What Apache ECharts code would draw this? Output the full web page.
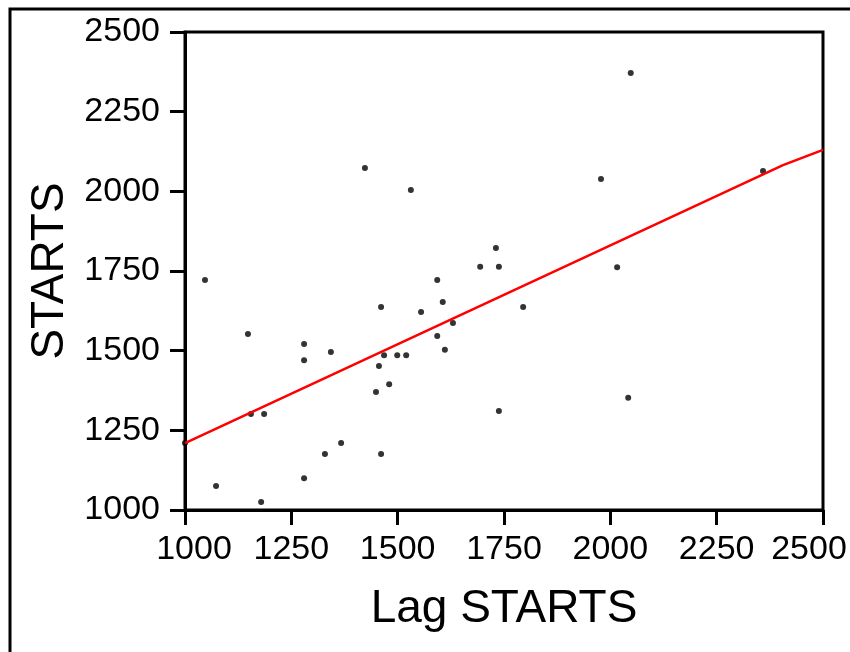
<!DOCTYPE html>
<html>
<head>
<meta charset="utf-8">
<script src="https://cdn.jsdelivr.net/npm/echarts@6/dist/echarts.min.js"></script>
<style>
  html, body { margin: 0; padding: 0; background: #fff; }
  #chart { width: 850px; height: 652px; }
</style>
</head>
<body>
<div id="chart"></div>
<script>
// scatter: lagged starts vs starts
const lagStarts = [1000, 1047, 1073, 1148, 1155, 1186, 1179, 1280, 1280, 1280,
  1343, 1329, 1367, 1423, 1449, 1456, 1461, 1461, 1468, 1480,
  1499, 1520, 1531, 1555, 1593, 1593, 1606, 1611, 1630, 1694,
  1731, 1738, 1738, 1795, 1978, 2016, 2042, 2048, 2359]
const starts = [1210, 1722, 1075, 1552, 1301, 1301, 1025, 1521, 1470, 1100,
  1496, 1176, 1210, 2073, 1370, 1452, 1637, 1176, 1486, 1395,
  1486, 1486, 2004, 1621, 1722, 1546, 1653, 1503, 1587, 1763,
  1822, 1763, 1311, 1637, 2039, 1762, 1352, 2371, 2064]

// fitted line
const fitX = [1000, 2406, 2500]
const fitY = [1210, 2082, 2130]

const tickValues = [1000, 1250, 1500, 1750, 2000, 2250, 2500]

const font = '"Liberation Sans", Arial, sans-serif'

const chart = echarts.init(document.getElementById('chart'))

const axisCommon = {
    type: 'value',
    min: tickValues[0],
    max: tickValues[tickValues.length - 1],
    interval: 250,
    splitLine: { show: false },
    axisLine: { show: true, lineStyle: { color: '#000', width: 3 } },
    axisTick: { show: true, lineStyle: { color: '#000', width: 3 } },
    nameLocation: 'middle',
    nameTextStyle: { color: '#000', fontFamily: font, fontSize: 46 }
}

const txt = { color: '#000', fontFamily: font, fontSize: 34 }

chart.setOption({
    backgroundColor: '#fff',
    animation: false,
    graphic: [{
        type: 'rect',
        shape: { x: 10, y: 9, width: 900, height: 700 },
        style: { fill: 'none', stroke: '#000', lineWidth: 3 }
    }],
    grid: {
        left: 185, top: 32, width: 638, height: 478,
        containLabel: false,
        outerBoundsMode: 'none',
        show: true, borderColor: '#000', borderWidth: 3
    },
    xAxis: {
        ...axisCommon,
        name: 'Lag STARTS',
        nameGap: 76,
        axisTick: { ...axisCommon.axisTick, length: 15 },
        axisLabel: {
            ...txt,
            margin: 23,
            // end labels are nudged inward like in the original
            formatter: v => v === tickValues[0] ? '{l|' + v + '}'
                : v === tickValues[tickValues.length - 1] ? '{r|' + v + '}'
                : String(v),
            rich: {
                l: { ...txt, padding: [0, 0, 0, 18] },
                r: { ...txt, padding: [0, 28, 0, 0] }
            }
        }
    },
    yAxis: {
        ...axisCommon,
        name: 'STARTS',
        nameGap: 108,
        axisTick: { ...axisCommon.axisTick, length: 15 },
        axisLabel: { ...txt, margin: 25, formatter: v => String(v) }
    },
    series: [
        {
            type: 'scatter',
            symbol: 'circle',
            symbolSize: 6,
            itemStyle: { color: '#000' },
            data: lagStarts.map((x, i) => [x, starts[i]])
        },
        {
            type: 'line',
            symbol: 'none',
            lineStyle: { color: '#ff0000', width: 2.5 },
            data: fitX.map((x, i) => [x, fitY[i]])
        }
    ]
})
</script>
</body>
</html>
